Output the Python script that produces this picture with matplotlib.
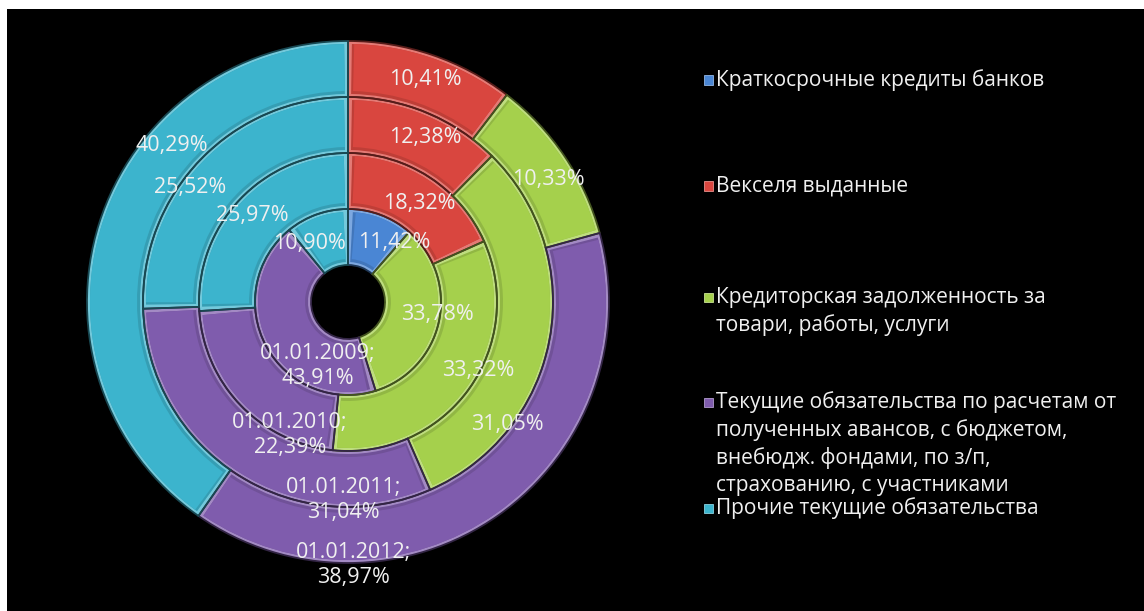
import math
import matplotlib
matplotlib.use("Agg")
import matplotlib.pyplot as plt
from matplotlib.patches import Rectangle, Wedge
import matplotlib.colors as mcolors

# ---- data ---------------------------------------------------------------
categories = [
    "Краткосрочные кредиты банков",
    "Векселя выданные",
    "Кредиторская задолженность за\nтовари, работы, услуги",
    "Текущие обязательства по расчетам от\nполученных авансов, с бюджетом,\nвнебюдж. фондами, по з/п,\nстрахованию, с участниками",
    "Прочие текущие обязательства",
]
dates = ["01.01.2009", "01.01.2010", "01.01.2011", "01.01.2012"]

share_2009 = [11.42, 0.00, 33.78, 43.91, 10.90]
share_2010 = [0.00, 18.32, 33.32, 22.39, 25.97]
share_2011 = [0.00, 12.38, 31.05, 31.04, 25.52]
share_2012 = [0.00, 10.41, 10.33, 38.97, 40.29]
rings = [share_2009, share_2010, share_2011, share_2012]

colors = ["#4a86d4", "#d9463f", "#a5d04c", "#7f5cad", "#3cb4cd"]

# ---- layout (pixels) ----------------------------------------------------
W, H = 1144, 611
cx, cy = 348, H - 302
hole = 37
ring_w = 56
font = ["Open Sans", "DejaVu Sans"]
txt_col = "#f0f0f0"

# label anchors: (ring, category) -> (clockwise angle from top, radius)
label_pos = {
    (0, 0): (38, 75), (0, 2): (98, 90), (0, 3): (205, 71), (0, 4): (327, 70),
    (1, 1): (36, 122), (1, 2): (117.6, 147), (1, 3): (203.6, 145), (1, 4): (312, 129),
    (2, 1): (25, 182), (2, 2): (127.7, 201), (2, 3): (181.4, 198), (2, 4): (306, 195),
    (3, 1): (19.1, 235), (3, 2): (58.7, 235), (3, 3): (178.9, 263), (3, 4): (311.7, 236),
}


def shade(c, f):
    r, g, b = mcolors.to_rgb(c)
    if f >= 0:
        return (r + (1 - r) * f, g + (1 - g) * f, b + (1 - b) * f)
    return (r * (1 + f), g * (1 + f), b * (1 + f))


fig = plt.figure(figsize=(W / 100, H / 100), dpi=100, facecolor="white")
fig.patches.append(Rectangle((7 / W, 0), 1 - 7 / W, (H - 9) / H,
                             transform=fig.transFigure, facecolor="black",
                             edgecolor="none", zorder=-5))

ax = fig.add_axes([0, 0, 1, 1])
ax.set_facecolor("none")

for i, vals in enumerate(rings):
    outer = hole + ring_w * (i + 1)
    wedges, _ = ax.pie(vals, colors=colors, radius=outer, center=(cx, cy),
                       startangle=90, counterclock=False,
                       wedgeprops=dict(width=ring_w, linewidth=0))
    for w, col, v in zip(wedges, colors, vals):
        if v <= 0:
            w.set_visible(False)
            continue
        # soft bevel: light rim, flat body and a dark groove on the edges
        w.set_facecolor(shade(col, 0.28))
        w.set_edgecolor("none")
        pad = math.degrees(3.5 / (outer - ring_w / 2))
        ax.add_patch(Wedge(w.center, w.r - 3.0, w.theta1 + pad, w.theta2 - pad,
                           width=ring_w - 6, facecolor=shade(col, -0.12),
                           edgecolor="none", zorder=w.get_zorder() + 0.03))
        ax.add_patch(Wedge(w.center, w.r - 3.0, w.theta1 + pad, w.theta2 - pad * 1.6,
                           width=ring_w - 9, facecolor=col,
                           edgecolor="none", zorder=w.get_zorder() + 0.05))
        ax.add_patch(Wedge(w.center, w.r, w.theta1, w.theta2, width=w.width,
                           fill=False, edgecolor=shade(col, -0.6),
                           linewidth=1.3, zorder=w.get_zorder() + 0.1))

for (i, k), (ang, rad) in label_pos.items():
    v = rings[i][k]
    pct = f"{v:.2f}".replace(".", ",") + "%"
    label = f"{dates[i]};\n{pct}" if k == 3 else pct
    a = math.radians(ang)
    ax.text(cx + rad * math.sin(a), cy + rad * math.cos(a), label,
            ha="center", va="center", color=txt_col, fontsize=15.5,
            family=font, linespacing=1.25, zorder=10)

ax.set_xlim(0, W)
ax.set_ylim(0, H)
ax.set_aspect("equal")
ax.axis("off")

# ---- legend -------------------------------------------------------------
leg_first_line = [80, 186, 297, 402, 508]
line_step = 28
for name, col, y0 in zip(categories, colors, leg_first_line):
    fig.patches.append(Rectangle((704 / W, 1 - (y0 + 4.5) / H), 9 / W, 9 / H,
                                 transform=fig.transFigure, facecolor=col,
                                 edgecolor=shade(col, 0.4), linewidth=0.6,
                                 zorder=5))
    for j, line in enumerate(name.split("\n")):
        y = y0 + j * line_step
        fig.text(716 / W, 1 - y / H, line, ha="left", va="center",
                 color=txt_col, fontsize=15, family=font)

fig.savefig("out.png", dpi=100, facecolor=fig.get_facecolor())
